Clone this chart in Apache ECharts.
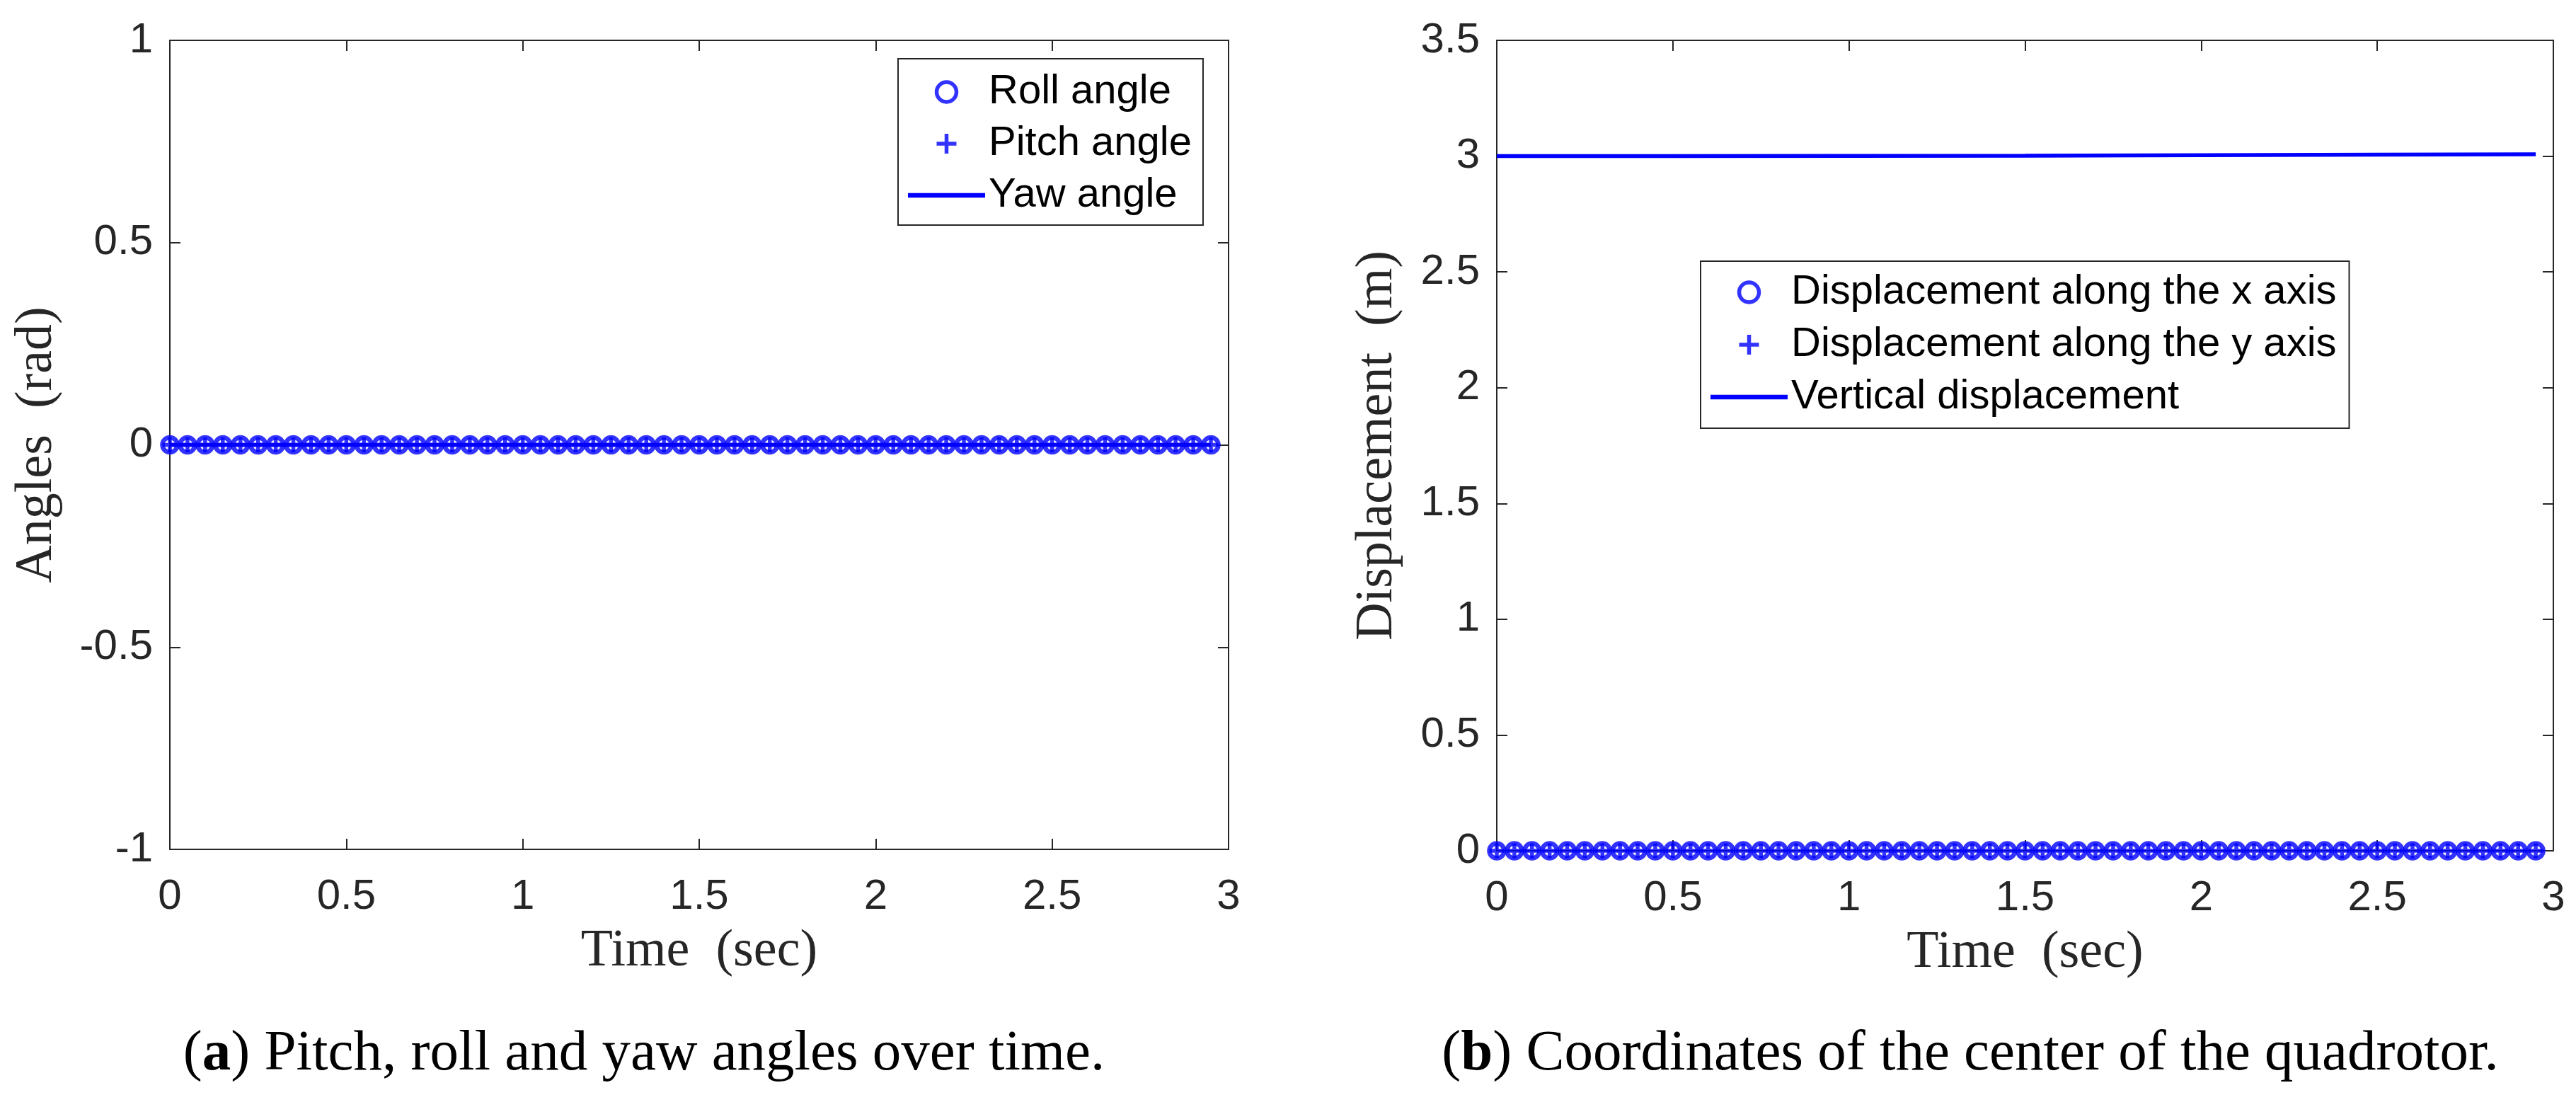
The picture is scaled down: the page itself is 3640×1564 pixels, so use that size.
<!DOCTYPE html>
<html>
<head>
<meta charset="utf-8">
<script src="https://cdn.jsdelivr.net/npm/echarts@6/dist/echarts.min.js"></script>
<style>html,body{margin:0;padding:0;background:#fff}#c{width:3640px;height:1564px}</style>
</head>
<body>
<div id="c"></div>
<script>
// ---------------- data ----------------
const timeSec = [0.00,0.05,0.10,0.15,0.20,0.25,0.30,0.35,0.40,0.45,0.50,0.55,0.60,0.65,0.70,0.75,0.80,0.85,0.90,0.95,
  1.00,1.05,1.10,1.15,1.20,1.25,1.30,1.35,1.40,1.45,1.50,1.55,1.60,1.65,1.70,1.75,1.80,1.85,1.90,1.95,
  2.00,2.05,2.10,2.15,2.20,2.25,2.30,2.35,2.40,2.45,2.50,2.55,2.60,2.65,2.70,2.75,2.80,2.85,2.90,2.95];
const rollAngle  = [0,0,0,0,0,0,0,0,0,0,0,0,0,0,0,0,0,0,0,0,0,0,0,0,0,0,0,0,0,0,0,0,0,0,0,0,0,0,0,0,0,0,0,0,0,0,0,0,0,0,0,0,0,0,0,0,0,0,0,0];
const pitchAngle = [0,0,0,0,0,0,0,0,0,0,0,0,0,0,0,0,0,0,0,0,0,0,0,0,0,0,0,0,0,0,0,0,0,0,0,0,0,0,0,0,0,0,0,0,0,0,0,0,0,0,0,0,0,0,0,0,0,0,0,0];
const yawAngle   = [0,0,0,0,0,0,0,0,0,0,0,0,0,0,0,0,0,0,0,0,0,0,0,0,0,0,0,0,0,0,0,0,0,0,0,0,0,0,0,0,0,0,0,0,0,0,0,0,0,0,0,0,0,0,0,0,0,0,0,0];
const dispX      = [0,0,0,0,0,0,0,0,0,0,0,0,0,0,0,0,0,0,0,0,0,0,0,0,0,0,0,0,0,0,0,0,0,0,0,0,0,0,0,0,0,0,0,0,0,0,0,0,0,0,0,0,0,0,0,0,0,0,0,0];
const dispY      = [0,0,0,0,0,0,0,0,0,0,0,0,0,0,0,0,0,0,0,0,0,0,0,0,0,0,0,0,0,0,0,0,0,0,0,0,0,0,0,0,0,0,0,0,0,0,0,0,0,0,0,0,0,0,0,0,0,0,0,0];
const vertTime   = [0, 0.5, 1.0, 1.5, 2.0, 2.5, 2.95];
const vertDisp   = [3.000, 3.000, 3.001, 3.002, 3.004, 3.006, 3.008];

const namesA = ['Roll angle', 'Pitch angle', 'Yaw angle'];
const namesB = ['Displacement along the x axis', 'Displacement along the y axis', 'Vertical displacement'];
const xTicks  = {min: 0, max: 3, step: 0.5};
const yTicksA = {min: -1, max: 1, step: 0.5};
const yTicksB = {min: 0, max: 3.5, step: 0.5};
const xTitle = 'Time  (sec)';
const yTitleA = 'Angles  (rad)';
const yTitleB = 'Displacement  (m)';
const captionA = 'Pitch, roll and yaw angles over time.';
const captionB = 'Coordinates of the center of the quadrotor.';

// ---------------- style ----------------
const BLUE = '#0000ff';
const AX = '#262626';
const SANS = '"Liberation Sans", Arial, Helvetica, sans-serif';
const SERIF = '"Liberation Serif", "Times New Roman", serif';
const plusPath = 'path://M0,-10L0,10M-10,0L10,0';
const linePath = 'path://M0,0H100V6H0Z';

function pairs(x, y) { return x.map((t, i) => [t, y[i]]); }

const axLine = {show: true, onZero: false, lineStyle: {color: AX, width: 2}};
const axTick = {show: true, inside: true, length: 15, lineStyle: {color: AX, width: 2}};
const axLabel = {color: AX, fontSize: 60, fontFamily: SANS};
const nameStyle = {fontFamily: SERIF, fontSize: 74, lineHeight: 74, color: AX};

function mkAxis(grid, t, position, labelled, extra) {
  return Object.assign({
    type: 'value', gridIndex: grid, position: position,
    min: t.min, max: t.max, interval: t.step,
    axisLine: axLine, axisTick: axTick,
    axisLabel: labelled ? Object.assign({margin: 24}, axLabel) : {show: false},
    splitLine: {show: false}, nameMoveOverlap: false
  }, extra || {});
}

const grids = [
  {left: 240, top: 57, width: 1496, height: 1143, outerBoundsMode: 'none', containLabel: false},
  {left: 2115, top: 57, width: 1493, height: 1145, outerBoundsMode: 'none', containLabel: false}
];

const xAxes = [
  mkAxis(0, xTicks, 'bottom', true, {axisLabel: Object.assign({margin: 37}, axLabel),
    name: xTitle, nameLocation: 'middle', nameGap: 108, nameTextStyle: nameStyle}),
  mkAxis(0, xTicks, 'top', false),
  mkAxis(1, xTicks, 'bottom', true, {axisLabel: Object.assign({margin: 37}, axLabel),
    name: xTitle, nameLocation: 'middle', nameGap: 108, nameTextStyle: nameStyle}),
  mkAxis(1, xTicks, 'top', false)
];
const yAxes = [
  mkAxis(0, yTicksA, 'left', true, {name: yTitleA, nameLocation: 'middle', nameGap: 150, nameTextStyle: nameStyle}),
  mkAxis(0, yTicksA, 'right', false),
  mkAxis(1, yTicksB, 'left', true, {name: yTitleB, nameLocation: 'middle', nameGap: 131, nameTextStyle: nameStyle}),
  mkAxis(1, yTicksB, 'right', false)
];

const circleStyle = {color: 'rgba(0,0,0,0)', borderColor: BLUE, borderWidth: 6.5};
const plusStyle = {color: BLUE, borderColor: BLUE, borderWidth: 5.5};

function markerSeries(name, xi, yi, data, isPlus) {
  return {
    type: 'scatter', name: name, xAxisIndex: xi, yAxisIndex: yi, data: data,
    symbol: isPlus ? plusPath : 'circle', symbolSize: 21,
    itemStyle: isPlus ? plusStyle : circleStyle, z: isPlus ? 4 : 3,
    emphasis: {disabled: true}, silent: true, clip: false
  };
}
function lineSeries(name, xi, yi, data) {
  return {
    type: 'line', name: name, xAxisIndex: xi, yAxisIndex: yi, data: data,
    showSymbol: false, symbol: 'none', lineStyle: {color: BLUE, width: 5.5},
    itemStyle: {color: BLUE}, z: 2, emphasis: {disabled: true}, silent: true
  };
}

const series = [
  markerSeries(namesA[0], 0, 0, pairs(timeSec, rollAngle), false),
  markerSeries(namesA[1], 0, 0, pairs(timeSec, pitchAngle), true),
  lineSeries(namesA[2], 0, 0, pairs(timeSec, yawAngle)),
  markerSeries(namesB[0], 2, 2, pairs(timeSec, dispX), false),
  markerSeries(namesB[1], 2, 2, pairs(timeSec, dispY), true),
  lineSeries(namesB[2], 2, 2, pairs(vertTime, vertDisp))
];

function legendData(names) {
  return [
    {name: names[0], icon: 'circle', itemStyle: {color: 'rgba(0,0,0,0)', borderColor: BLUE, borderWidth: 5.5}},
    {name: names[1], icon: plusPath, itemStyle: {color: BLUE, borderColor: BLUE, borderWidth: 5.5}},
    {name: names[2], icon: linePath, itemStyle: {color: BLUE, borderWidth: 0}}
  ];
}
const legendCommon = {
  orient: 'vertical', itemWidth: 109, itemHeight: 28,
  backgroundColor: '#ffffff', borderColor: AX, borderWidth: 2, borderRadius: 0,
  textStyle: {fontSize: 58, lineHeight: 58, fontFamily: SANS, color: '#000'},
  selectedMode: false, inactiveColor: BLUE
};
const legends = [
  Object.assign({data: legendData(namesA), left: 1269, top: 83, padding: [18, 16, 13, 14], itemGap: 15}, legendCommon),
  Object.assign({data: legendData(namesB), left: 2403, top: 369, padding: [15, 18, 15, 14], itemGap: 16}, legendCommon)
];

const capFont = 81;
function caption(cx, letter, text) {
  return {
    type: 'text', x: cx, y: 1490, silent: true,
    style: {
      text: '({b|' + letter + '}) ' + text,
      fontFamily: SERIF, fontSize: capFont, fill: '#000',
      align: 'center', verticalAlign: 'middle',
      rich: {b: {fontFamily: SERIF, fontSize: capFont, fontWeight: 'bold', fill: '#000'}}
    }
  };
}

const chart = echarts.init(document.getElementById('c'), null, {renderer: 'canvas'});
chart.setOption({
  animation: false,
  backgroundColor: '#ffffff',
  grid: grids,
  xAxis: xAxes,
  yAxis: yAxes,
  legend: legends,
  tooltip: {show: false},
  series: series,
  graphic: [caption(910, 'a', captionA), caption(2784, 'b', captionB)]
});
</script>
</body>
</html>
